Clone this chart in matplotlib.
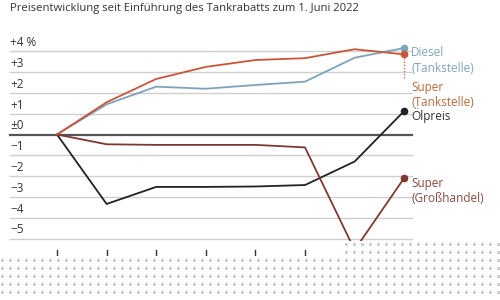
import numpy as np
import matplotlib
matplotlib.use("Agg")
import matplotlib.pyplot as plt
from matplotlib.patches import Polygon

plt.rcParams['font.family'] = ['Open Sans', 'DejaVu Sans']

title = "Preisentwicklung seit Einführung des Tankrabatts zum 1. Juni 2022"
steps = list(range(8))
diesel = [0, 1.45, 2.3, 2.2, 2.38, 2.54, 3.69, 4.16]
super_tank = [0, 1.55, 2.67, 3.25, 3.58, 3.67, 4.1, 3.85]
oel = [0, -3.34, -2.52, -2.52, -2.5, -2.43, -1.3, 1.13]
super_gross = [0, -0.47, -0.5, -0.5, -0.5, -0.62, -5.55, -2.09]
ytick_vals = [4, 3, 2, 1, 0, -1, -2, -3, -4, -5]
ytick_labels = ["+4 %", "+3", "+2", "+1", "±0", "−1", "−2", "−3", "−4", "−5"]

c_diesel = "#7fa3ba"
c_super = "#c9553a"
c_oel = "#222222"
c_gross = "#7d3a33"

W, H = 500, 300
fig = plt.figure(figsize=(5, 3), dpi=100)
ax = fig.add_axes([0, 0, 1, 1])
ax.set_axis_off()

# pixel mapping
x0_px, dx_px = 57, 49.6
y0_px, dy_px = 134.5, 20.8
ax.set_xlim(-x0_px / dx_px, (W - x0_px) / dx_px)
ax.set_ylim((y0_px - H) / dy_px, y0_px / dy_px)

def px2x(p):
    return (p - x0_px) / dx_px

def py2y(p):
    return (y0_px - p) / dy_px

gx0, gx1 = px2x(10), px2x(412)
for v, lab in zip(ytick_vals, ytick_labels):
    if v == 0:
        ax.plot([gx0, gx1], [v, v], color="#555555", lw=1.6, zorder=2)
    else:
        ax.plot([gx0, gx1], [v, v], color="#cfcfcf", lw=1.0, zorder=1)
    ax.text(gx0, v + 0.1, lab, fontsize=8.5, color="#333333",
            ha="left", va="bottom")

ax.plot(steps, diesel, color=c_diesel, lw=1.3, zorder=3)
ax.plot(steps, super_tank, color=c_super, lw=1.3, zorder=4)
ax.plot(steps, oel, color=c_oel, lw=1.3, zorder=3)
ax.plot(steps, super_gross, color=c_gross, lw=1.3, zorder=3)
for s, c in [(diesel, c_diesel), (super_tank, c_super), (oel, c_oel), (super_gross, c_gross)]:
    ax.plot(steps[-1], s[-1], "o", color=c, ms=4.5, zorder=5)

# dotted connector from Super (Tankstelle) endpoint to its label
ax.plot([steps[-1], steps[-1]], [super_tank[-1] - 0.15, py2y(80)],
        color=c_super, lw=0.9, ls=(0, (1, 1.5)), zorder=3)

lx = px2x(411)
ax.text(lx, py2y(61), "Diesel\n(Tankstelle)", color=c_diesel, fontsize=8.5,
        ha="left", va="center", linespacing=1.3)
ax.text(lx, py2y(95), "Super\n(Tankstelle)", color="#b86a3e", fontsize=8.5,
        ha="left", va="center", linespacing=1.3)
ax.text(lx, py2y(116), "Ölpreis", color="#333333", fontsize=8.5,
        ha="left", va="center")
ax.text(lx, py2y(191), "Super\n(Großhandel)", color="#8a4a3f", fontsize=8.5,
        ha="left", va="center", linespacing=1.3)

# bottom ticks
for s in steps[:6]:
    ax.plot([s, s], [py2y(250), py2y(256)], color="#333333", lw=1.0, zorder=3)

# dotted overlay band at the bottom
poly = Polygon([(px2x(-5), py2y(256)), (px2x(345), py2y(256)), (px2x(345), py2y(241)),
                (px2x(505), py2y(241)), (px2x(505), py2y(305)), (px2x(-5), py2y(305))],
               closed=True, facecolor="white", edgecolor="none", zorder=6)
ax.add_patch(poly)
gx = np.arange(2, W, 8.0)
gy = np.arange(244, H, 8.0)
XX, YY = np.meshgrid(gx, gy)
mask = (YY >= 258) | ((XX >= 345) & (YY >= 243))
ax.scatter(px2x(XX[mask]), py2y(YY[mask]), marker="x", s=2.5, linewidths=0.5,
           color="#9a9a9a", zorder=7)

fig.text(10 / W, 1 - 9 / H, title, fontsize=8.1, color="#333333",
         ha="left", va="center")

fig.savefig("out.png", dpi=100)
